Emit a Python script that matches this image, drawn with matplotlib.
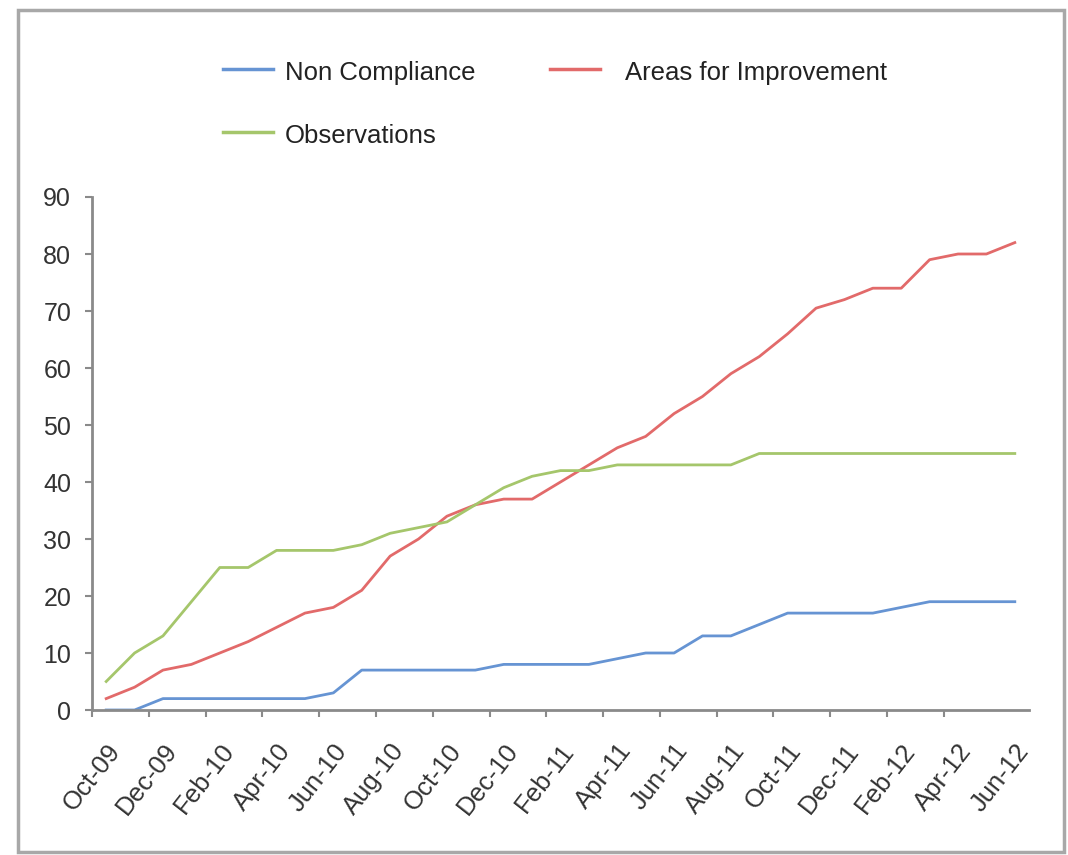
import matplotlib.pyplot as plt
from matplotlib.patches import Rectangle
from matplotlib.lines import Line2D

plt.rcParams['font.family'] = ['Liberation Sans', 'DejaVu Sans']

months = ['Oct-09', 'Nov-09', 'Dec-09', 'Jan-10', 'Feb-10', 'Mar-10', 'Apr-10', 'May-10',
          'Jun-10', 'Jul-10', 'Aug-10', 'Sep-10', 'Oct-10', 'Nov-10', 'Dec-10', 'Jan-11',
          'Feb-11', 'Mar-11', 'Apr-11', 'May-11', 'Jun-11', 'Jul-11', 'Aug-11', 'Sep-11',
          'Oct-11', 'Nov-11', 'Dec-11', 'Jan-12', 'Feb-12', 'Mar-12', 'Apr-12', 'May-12',
          'Jun-12']

non_compliance = [0, 0, 2, 2, 2, 2, 2, 2, 3, 7, 7, 7, 7, 7, 8, 8, 8, 8, 9, 10, 10,
                  13, 13, 15, 17, 17, 17, 17, 18, 19, 19, 19, 19]
improvement = [2, 4, 7, 8, 10, 12, 14.5, 17, 18, 21, 27, 30, 34, 36, 37, 37, 40, 43,
               46, 48, 52, 55, 59, 62, 66, 70.5, 72, 74, 74, 79, 80, 80, 82]
observations = [5, 10, 13, 19, 25, 25, 28, 28, 28, 29, 31, 32, 33, 36, 39, 41, 42, 42,
                43, 43, 43, 43, 43, 45, 45, 45, 45, 45, 45, 45, 45, 45, 45]

yticks = [0, 10, 20, 30, 40, 50, 60, 70, 80, 90]

W, H = 1068, 855
fig = plt.figure(figsize=(W / 100, H / 100), dpi=100)
ax = fig.add_axes([92/W, 145/H, 937/W, 513/H])

x = list(range(len(months)))
ax.plot(x, non_compliance, color='#6694d3', lw=2)
ax.plot(x, improvement, color='#e26a6a', lw=2)
ax.plot(x, observations, color='#a5c66b', lw=2)

ax.set_xlim(-0.5, len(months) - 0.5)
ax.set_ylim(0, 90)
ax.set_yticks(yticks)
ax.tick_params(axis='y', labelsize=18, colors='#8a8a8a', labelcolor='#333333',
               length=5, width=1.5, pad=10)

# tick marks sit between categories, labels on every second month
ax.set_xticks([i - 0.5 for i in range(0, len(months) - 1, 2)])
ax.set_xticklabels([])
ax.set_xticks(x[::2], minor=True)
ax.set_xticklabels(months[::2], minor=True, rotation=52, ha='right', va='top',
                   rotation_mode='anchor', fontsize=18.5, color='#333333')
ax.tick_params(axis='x', which='major', length=5, width=1.5, colors='#8a8a8a')
ax.tick_params(axis='x', which='minor', length=0, pad=21)

for s in ['top', 'right']:
    ax.spines[s].set_visible(False)
for s in ['left', 'bottom']:
    ax.spines[s].set_color('#8a8a8a')
    ax.spines[s].set_linewidth(2)

# legend, laid out as in the original (two entries on the first row)
legend_items = [('Non Compliance', '#6694d3', 223, 80),
                ('Areas for Improvement', '#e26a6a', 550, 80),
                ('Observations', '#a5c66b', 223, 143)]
for label, color, lx, base in legend_items:
    ly = 1 - (base - 11) / H
    fig.add_artist(Line2D([lx / W, (lx + 50) / W], [ly, ly], color=color, lw=2.5,
                          transform=fig.transFigure))
    tx = lx + (62 if lx < 400 else 75)
    fig.text(tx / W, 1 - base / H, label, fontsize=18.5, color='#222222',
             va='baseline', ha='left')

fig.patches.append(Rectangle((18/W, 3/H), 1046/W, 842/H, transform=fig.transFigure,
                             fill=False, edgecolor='#a8a8a8', lw=2.5))

plt.savefig('out.png', dpi=100)
